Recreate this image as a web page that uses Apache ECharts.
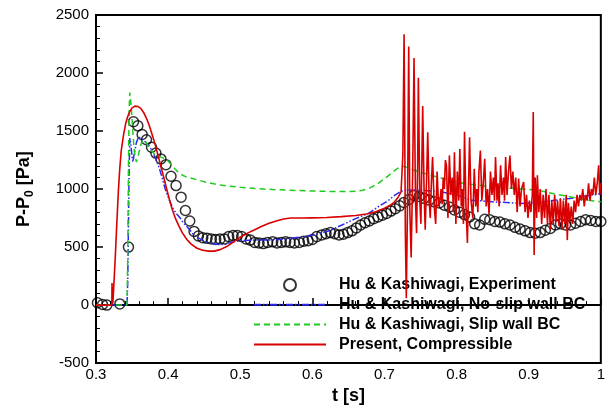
<!DOCTYPE html>
<html>
<head>
<meta charset="utf-8">
<script src="https://cdn.jsdelivr.net/npm/echarts@6/dist/echarts.min.js"></script>
<style>html,body{margin:0;padding:0;background:#fff}#c{width:608px;height:410px}</style>
</head>
<body>
<div id="c"></div>
<script>
var seriesNames = ['Hu & Kashiwagi, Experiment', 'Hu & Kashiwagi, No-slip wall BC', 'Hu & Kashiwagi, Slip wall BC', 'Present, Compressible'];
var xTicks = [0.3, 0.4, 0.5, 0.6, 0.7, 0.8, 0.9, 1];
var yTicks = [-500, 0, 500, 1000, 1500, 2000, 2500];

var experiment = [
[0.302,20],[0.309,5],[0.315,0],[0.333,10],[0.345,500],[0.352,1580],[0.358,1545],[0.364,1470],[0.370,1425],[0.377,1360],[0.383,1310],[0.390,1260],[0.397,1210],[0.404,1110],[0.411,1030],[0.418,930],[0.424,815],[0.430,725],[0.436,635],[0.442,595],[0.448,580],[0.454,575],[0.460,570],[0.466,565],[0.472,570],[0.478,570],[0.484,590],[0.490,600],[0.496,600],[0.502,590],[0.508,570],[0.514,560],[0.520,540],[0.526,535],[0.532,530],[0.538,540],[0.545,545],[0.551,535],[0.557,540],[0.563,545],[0.569,540],[0.575,535],[0.582,540],[0.588,550],[0.594,555],[0.600,565],[0.606,590],[0.613,605],[0.619,615],[0.625,625],[0.631,615],[0.637,605],[0.643,610],[0.649,625],[0.655,640],[0.661,665],[0.667,690],[0.673,710],[0.679,725],[0.685,745],[0.691,760],[0.697,775],[0.703,790],[0.709,810],[0.715,830],[0.721,855],[0.727,885],[0.734,910],[0.741,945],[0.748,935],[0.755,920],[0.762,905],[0.769,890],[0.776,880],[0.783,860],[0.790,845],[0.797,820],[0.804,800],[0.811,780],[0.818,760],[0.825,700],[0.832,690],[0.839,740],[0.846,735],[0.853,720],[0.860,715],[0.867,700],[0.874,690],[0.881,670],[0.888,655],[0.895,640],[0.902,625],[0.909,620],[0.916,625],[0.923,645],[0.930,660],[0.937,690],[0.944,700],[0.951,690],[0.958,690],[0.965,705],[0.972,720],[0.979,735],[0.986,730],[0.993,720],[1.0,720]
];

var noSlip = [
[0.300,0],[0.343,0],[0.344,200],[0.345,700],[0.346,1200],[0.347,1440],[0.348,1400],[0.350,1280],[0.351,1232],[0.353,1300],[0.356,1400],[0.359,1450],[0.361,1460],[0.366,1420],[0.370,1395],[0.373,1375],[0.378,1330],[0.383,1261],[0.388,1175],[0.392,1090],[0.396,1000],[0.399,947],[0.404,870],[0.408,819],[0.412,785],[0.417,748],[0.421,710],[0.426,677],[0.431,640],[0.4355,605],[0.443,575],[0.4516,548],[0.460,532],[0.470,522],[0.480,525],[0.490,545],[0.500,556],[0.520,560],[0.535,560],[0.549,562],[0.570,575],[0.590,591],[0.610,615],[0.625,645],[0.641,690],[0.660,745],[0.678,790],[0.692,850],[0.705,900],[0.715,950],[0.723,980],[0.730,992],[0.750,990],[0.775,980],[0.800,950],[0.820,904],[0.850,890],[0.893,876],[0.920,890],[0.957,919],[0.980,940],[1.0,960]
];

var slip = [
[0.300,0],[0.343,0],[0.344,400],[0.345,1200],[0.346,1700],[0.347,1831],[0.349,1700],[0.351,1500],[0.353,1330],[0.356,1232],[0.359,1300],[0.362,1380],[0.365,1425],[0.3675,1432],[0.370,1400],[0.374,1346],[0.380,1310],[0.386,1285],[0.392,1270],[0.397,1261],[0.403,1220],[0.410,1170],[0.416,1132],[0.425,1105],[0.435,1088],[0.443,1075],[0.455,1055],[0.475,1032],[0.500,1015],[0.521,1004],[0.545,996],[0.567,990],[0.590,985],[0.613,981],[0.640,978],[0.660,980],[0.670,990],[0.680,1010],[0.691,1047],[0.700,1090],[0.709,1132],[0.716,1170],[0.723,1195],[0.728,1195],[0.735,1175],[0.750,1145],[0.765,1118],[0.790,1075],[0.811,1047],[0.835,1030],[0.857,1018],[0.885,1004],[0.912,990],[0.935,960],[0.957,933],[0.980,905],[1.0,890]
];

var present = [
[0.300,0],[0.322,0],[0.3222,190],[0.3226,190],[0.3228,10],[0.3235,30],[0.325,200],[0.327,450],[0.329,720],[0.331,980],[0.333,1180],[0.335,1330],[0.338,1460],[0.341,1560],[0.344,1625],[0.347,1670],[0.350,1700],[0.354,1715],[0.358,1712],[0.362,1695],[0.366,1660],[0.370,1610],[0.374,1545],[0.378,1465],[0.382,1385],[0.386,1290],[0.390,1195],[0.394,1100],[0.398,1000],[0.402,905],[0.406,820],[0.410,750],[0.415,680],[0.420,620],[0.426,565],[0.432,525],[0.440,490],[0.448,472],[0.456,465],[0.464,465],[0.472,478],[0.480,500],[0.490,540],[0.500,585],[0.510,620],[0.520,650],[0.530,680],[0.540,705],[0.550,725],[0.560,742],[0.570,750],[0.585,750],[0.600,752],[0.620,755],[0.640,762],[0.660,772],[0.675,785],[0.688,805],[0.700,835],[0.708,860],[0.714,890],[0.719,930],[0.723,976],
[0.7255,1300],[0.7272,2335],[0.7290,600],[0.7303,60],[0.7320,900],[0.7336,2229],[0.7352,800],[0.7370,410],[0.7390,1100],[0.7410,2130],[0.7430,900],[0.7445,620],[0.7460,1200],[0.7470,1960],[0.7490,900],[0.7505,700],[0.7520,1300],[0.7530,1716],[0.7550,950],[0.7565,650],[0.7585,1100],[0.7600,1489],[0.7620,900],[0.7635,750],[0.7650,1050],[0.7667,1275],[0.7690,850],[0.7710,700],[0.7730,1150],[0.7750,850],[0.7770,900],[0.7785,1000],[0.7800,870],[0.7815,1100],[0.7830,1000],[0.7845,1250],[0.786,1200],[0.788,750],[0.790,1290],[0.792,950],[0.794,1100],[0.7955,800],[0.797,1318],[0.799,700],[0.801,1150],[0.803,900],[0.8045,1346],[0.8065,850],[0.808,1000],[0.8095,700],[0.811,1494],[0.813,850],[0.815,535],[0.8165,1000],[0.818,1446],[0.820,900],[0.8225,750],[0.8245,1175],[0.8265,850],[0.828,1000],[0.8295,800],[0.831,1150],[0.833,1332],[0.835,900],[0.837,1050],[0.839,1261],[0.841,850],[0.843,1000],[0.845,780],[0.847,1150],[0.849,950],[0.851,1100],[0.8525,900],[0.854,1275],[0.856,900],[0.8575,1050],[0.859,850],[0.861,1204],[0.863,950],[0.865,1100],[0.8665,900],[0.868,1275],[0.870,950],[0.872,1150],[0.874,1289],[0.876,1000],[0.878,1150],[0.880,950],[0.882,1100],[0.884,800],[0.886,1090],[0.888,850],[0.890,1000],[0.893,1061],[0.895,800],[0.897,950],[0.899,750],[0.901,900],[0.903,800],[0.905,950],[0.9063,1665],[0.9075,432],[0.909,1100],[0.911,750],[0.912,1118],[0.914,800],[0.916,1000],[0.918,700],[0.920,950],[0.922,750],[0.924,1000],[0.926,700],[0.928,950],[0.930,650],[0.932,900],[0.934,700],[0.936,950],[0.938,720],[0.940,900],[0.942,680],[0.944,920],[0.946,650],[0.948,900],[0.950,700],[0.952,950],[0.9535,560],[0.955,880],[0.957,720],[0.959,850],[0.961,700],[0.963,900],[0.965,800],[0.967,950],[0.969,850],[0.971,950],[0.973,900],[0.975,1000],[0.977,850],[0.979,950],[0.981,900],[0.983,1050],[0.985,900],[0.987,1000],[0.989,950],[0.991,1100],[0.993,950],[0.995,1050],[0.997,1204],[0.9985,950],[1.0,1050]
];

var FONT = 'Arial, "Liberation Sans", Helvetica, sans-serif';
var chart = echarts.init(document.getElementById('c'), null, {renderer: 'canvas'});
chart.setOption({
  animation: false,
  backgroundColor: '#fff',
  grid: {left: 96, right: 4, top: 15, bottom: 44, show: true, borderColor: '#000', borderWidth: 2, backgroundColor: 'transparent'},
  xAxis: {
    type: 'value', min: xTicks[0], max: xTicks[xTicks.length - 1], interval: 0.1,
    name: 't [s]', nameLocation: 'middle', nameGap: 22,
    nameTextStyle: {fontFamily: FONT, fontWeight: 'bold', fontSize: 18, color: '#000'},
    axisLine: {show: true, lineStyle: {color: '#000', width: 2}},
    axisTick: {show: true, inside: true, length: 7, lineStyle: {color: '#000', width: 1.5}},
    minorTick: {show: true, splitNumber: 5, length: 4, lineStyle: {color: '#000', width: 1}},
    splitLine: {show: false},
    axisLabel: {fontFamily: FONT, fontSize: 15, color: '#000', margin: 4,
      formatter: function (v) { return String(Math.round(v * 10) / 10); }}
  },
  yAxis: {
    type: 'value', min: yTicks[0], max: yTicks[yTicks.length - 1], interval: 500,
    name: '{m|P-P}{s|0}{m| [Pa]}', nameLocation: 'middle', nameGap: 60, nameRotate: 90,
    nameTextStyle: {fontFamily: FONT, fontWeight: 'bold', fontSize: 18, color: '#000',
      rich: {m: {fontFamily: FONT, fontWeight: 'bold', fontSize: 18, color: '#000', lineHeight: 24},
             s: {fontFamily: FONT, fontWeight: 'bold', fontSize: 12, color: '#000', lineHeight: 12, verticalAlign: 'bottom'}}},
    axisLine: {show: true, lineStyle: {color: '#000', width: 2}},
    axisTick: {show: true, inside: true, length: 7, lineStyle: {color: '#000', width: 1.5}},
    minorTick: {show: true, splitNumber: 5, length: 4, lineStyle: {color: '#000', width: 1}},
    splitLine: {show: false},
    axisLabel: {fontFamily: FONT, fontSize: 15, color: '#000', margin: 7,
      formatter: function (v) { return String(v); }}
  },
  legend: {
    orient: 'vertical', left: 253, top: 277, padding: 0, itemGap: 3.8,
    itemWidth: 72, itemHeight: 12, symbolKeepAspect: true,
    textStyle: {fontFamily: FONT, fontWeight: 'bold', fontSize: 16, color: '#000', lineHeight: 16, padding: [0, 0, 0, 8]},
    data: [
      {name: seriesNames[0]},
      {name: seriesNames[1], itemStyle: {opacity: 0}},
      {name: seriesNames[2], itemStyle: {opacity: 0}},
      {name: seriesNames[3], itemStyle: {opacity: 0}}
    ]
  },
  series: [
    {name: seriesNames[0], type: 'scatter', data: experiment, symbol: 'circle', symbolSize: 10,
     itemStyle: {color: 'rgba(0,0,0,0)', borderColor: '#000', borderWidth: 1.5}, z: 2},
    {name: seriesNames[1], type: 'line', data: noSlip, symbol: 'none', showSymbol: false,
     lineStyle: {color: '#2a2af2', width: 1.5, type: [7, 2, 1.5, 2, 1.5, 2]}, itemStyle: {color: '#2a2af2'}, z: 3},
    {name: seriesNames[2], type: 'line', data: slip, symbol: 'none', showSymbol: false,
     lineStyle: {color: '#1ecc1e', width: 1.5, type: [6, 4]}, itemStyle: {color: '#1ecc1e'}, z: 3},
    {name: seriesNames[3], type: 'line', data: present, symbol: 'none', showSymbol: false,
     lineStyle: {color: '#d80000', width: 1.6}, itemStyle: {color: '#d80000'}, z: 4}
  ]
});
</script>
</body>
</html>
